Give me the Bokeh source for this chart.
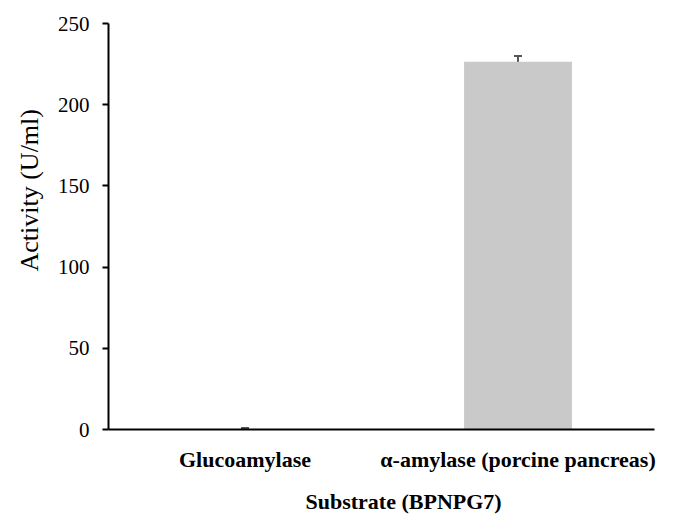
from bokeh.plotting import figure
from bokeh.models import ColumnDataSource, Whisker, Title, FactorRange
from bokeh.embed import file_html
from bokeh.resources import INLINE

categories = ["Glucoamylase", "α-amylase (porcine pancreas)"]
activity = [0.3, 226.5]
errors = [0.6, 3.5]
y_ticks = [0, 50, 100, 150, 200, 250]

src = ColumnDataSource(data=dict(
    cat=categories,
    val=activity,
    lower=[v - e for v, e in zip(activity, errors)],
    upper=[v + e for v, e in zip(activity, errors)],
))

p = figure(width=674, height=525, x_range=FactorRange(*categories, range_padding=0),
           y_range=(0, 250), output_backend="svg", toolbar_location=None,
           min_border_left=108, min_border_right=20, min_border_top=23, min_border_bottom=94)
p.outline_line_color = None
p.grid.grid_line_color = None

p.vbar(x="cat", top="val", width=0.395, source=src, fill_color="#c9c9c9", line_color=None)
w = Whisker(base="cat", lower="lower", upper="upper", source=src, line_color="#555555", line_width=2)
for h in (w.upper_head, w.lower_head):
    h.size = 8
    h.line_color = "#555555"
    h.line_width = 2
p.add_layout(w)

font = "Liberation Serif"
p.yaxis.ticker = y_ticks
p.yaxis.major_label_text_font = font
p.yaxis.major_label_text_font_size = "21px"
p.yaxis.major_label_text_color = "#000000"
p.yaxis.major_label_standoff = 13
p.yaxis.major_tick_out = 6
p.yaxis.major_tick_in = 0
p.yaxis.minor_tick_line_color = None
p.yaxis.axis_line_width = 2
p.yaxis.major_tick_line_width = 2
p.yaxis.axis_line_color = "#000000"
p.yaxis.major_tick_line_color = "#000000"

p.xaxis.major_label_text_font = font
p.xaxis.major_label_text_font_style = "bold"
p.xaxis.major_label_text_font_size = "22px"
p.xaxis.major_label_text_color = "#000000"
p.xaxis.major_label_standoff = 17
p.xaxis.major_tick_out = 0
p.xaxis.major_tick_in = 0
p.xaxis.major_tick_line_color = None
p.xaxis.axis_line_width = 2
p.xaxis.axis_line_color = "#000000"

xt = Title(text="Substrate (BPNPG7)", text_font=font, text_font_style="bold",
           text_font_size="22px", text_color="#000000", align="left", offset=197, standoff=24)
p.add_layout(xt, "below")
yt = Title(text="Activity (U/ml)", text_font=font, text_font_style="normal",
           text_font_size="26px", text_color="#000000", align="left", offset=158, standoff=21)
p.add_layout(yt, "left")

open("out.html", "w").write(file_html(p, INLINE))
